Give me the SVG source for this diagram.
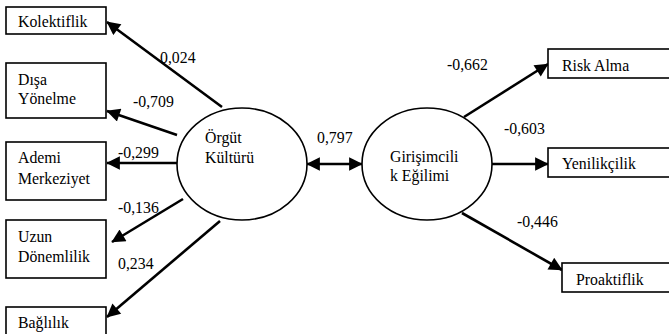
<svg xmlns="http://www.w3.org/2000/svg" width="669" height="334" viewBox="0 0 669 334" font-family="'Liberation Serif', 'DejaVu Serif', serif">
<style>
.box{fill:#fff;stroke:#000;stroke-width:1.6}
.ell{fill:#fff;stroke:#000;stroke-width:1.6}
text{font-family:'Liberation Serif','DejaVu Serif',serif;font-size:15.8px;fill:#000;font-variant-ligatures:none}
.c{fill:none;stroke:#000;stroke-width:2.6}
</style>
<defs>
<marker id="ah" viewBox="0 0 10 10" refX="9.5" refY="5" markerWidth="5.6" markerHeight="5.2" markerUnits="strokeWidth" orient="auto-start-reverse">
<path d="M0,0 L10,5 L0,10 z" fill="#000"/>
</marker>
</defs>
<rect width="669" height="334" fill="#fff"/>
<g id="connectors">
<line class="c" x1="222" y1="107" x2="107" y2="22" marker-end="url(#ah)"/>
<line class="c" x1="177" y1="135" x2="107" y2="111" marker-end="url(#ah)"/>
<line class="c" x1="177" y1="163" x2="107" y2="163" marker-end="url(#ah)"/>
<line class="c" x1="183" y1="199" x2="112" y2="242" marker-end="url(#ah)"/>
<line class="c" x1="220" y1="221" x2="107" y2="317" marker-end="url(#ah)"/>
<line class="c" x1="307" y1="164" x2="362" y2="164" marker-start="url(#ah)" marker-end="url(#ah)"/>
<line class="c" x1="464" y1="117" x2="548" y2="64" marker-end="url(#ah)"/>
<line class="c" x1="492" y1="164" x2="548" y2="164" marker-end="url(#ah)"/>
<line class="c" x1="462" y1="213" x2="562" y2="270" marker-end="url(#ah)"/>
<text x="160" y="63">0,024</text>
<text x="133" y="107">-0,709</text>
<text x="118" y="158">-0,299</text>
<text x="118" y="213">-0,136</text>
<text x="118" y="269">0,234</text>
<text x="317" y="143">0,797</text>
<text x="447" y="70">-0,662</text>
<text x="504" y="134">-0,603</text>
<text x="517" y="227">-0,446</text>
</g>
<g id="kolektiflik"><rect class="box" x="6" y="7" width="100" height="27"/><text x="18" y="27">Kolektiflik</text></g>
<g id="disa"><rect class="box" x="6" y="63" width="100" height="55"/><text x="18" y="85">Dışa</text><text x="18" y="104">Yönelme</text></g>
<g id="ademi"><rect class="box" x="6" y="142" width="100" height="58"/><text x="18" y="163">Ademi</text><text x="18" y="184">Merkeziyet</text></g>
<g id="uzun"><rect class="box" x="6" y="220" width="100" height="58"/><text x="18" y="242">Uzun</text><text x="18" y="262">Dönemlilik</text></g>
<g id="baglilik"><rect class="box" x="6" y="307" width="100" height="40"/><text x="18" y="328">Bağlılık</text></g>
<g id="orgut"><ellipse class="ell" cx="242" cy="164" rx="65" ry="56"/><text x="205" y="143">Örgüt</text><text x="205" y="163">Kültürü</text></g>
<g id="girisim"><ellipse class="ell" cx="427" cy="164" rx="65" ry="56"/><text x="390" y="162">Girişimcili</text><text x="390" y="181">k Eğilimi</text></g>
<g id="risk"><rect class="box" x="548" y="49" width="130" height="29"/><text x="562" y="71">Risk Alma</text></g>
<g id="yenilik"><rect class="box" x="548" y="148" width="130" height="29"/><text x="562" y="169">Yenilikçilik</text></g>
<g id="proaktif"><rect class="box" x="562" y="263" width="120" height="29"/><text x="576" y="285">Proaktiflik</text></g>
</svg>
